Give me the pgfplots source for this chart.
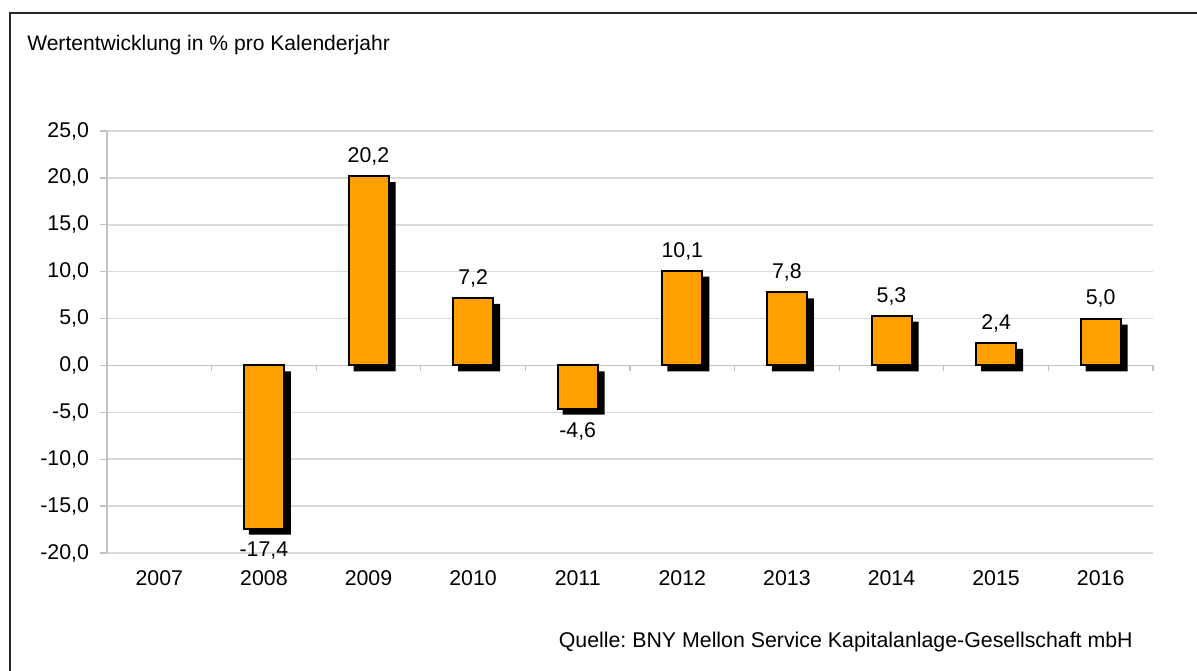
\documentclass[border=0pt]{standalone}
\usepackage{pgfplots}
\pgfplotsset{compat=1.18}
\usepackage{pgfplotstable}
\usepackage{fontspec}
\setmainfont{Liberation Sans}
\definecolor{barorange}{RGB}{255,160,0}
\definecolor{gridgray}{RGB}{217,217,217}
\definecolor{axgray}{RGB}{195,195,195}
\pgfplotstableread{
x y
1 -17.4
2 20.2
3 7.2
4 -4.6
5 10.1
6 7.8
7 5.3
8 2.4
9 5.0
}\perf
\begin{document}
\frenchspacing
\begin{tikzpicture}[font=\fontsize{16pt}{19pt}\selectfont]
\useasboundingbox (0,0) rectangle (897.75pt,503.25pt);
\draw[line width=1.2pt, black!85] (7.5pt,-2pt) -- (7.5pt,493.5pt) -- (900pt,493.5pt);
\node[anchor=base west, inner sep=0pt, font=\fontsize{15.8pt}{19pt}\selectfont] at (20.25pt,465pt) {Wertentwicklung in \% pro Kalenderjahr};
\node[anchor=base east, inner sep=0pt] at (849.75pt,17.25pt) {Quelle: BNY Mellon Service Kapitalanlage-Gesellschaft mbH};
\begin{axis}[
  at={(80.25pt,88.5pt)}, anchor=south west,
  scale only axis, width=784.5pt, height=316.5pt,
  xmin=-0.5, xmax=9.5, ymin=-20, ymax=25,
  clip=false,
  axis line style={draw=none},
  xtick={0,1,2,3,4,5,6,7,8,9},
  xticklabels={2007,2008,2009,2010,2011,2012,2013,2014,2015,2016},
  ytick={-20,-15,-10,-5,0,5,10,15,20,25},
  ytick pos=left,
  tick align=outside,
  major tick length=5pt,
  xtick style={draw=none},
  ytick style={axgray, line width=1pt},
  ymajorgrids,
  major grid style={gridgray, line width=1.1pt},
  /pgf/number format/assume math mode=true,
  yticklabel style={xshift=-5pt, /pgf/number format/.cd, fixed, fixed zerofill, precision=1, use comma},
  xticklabel style={yshift=-4.5pt},
  tick label style={font=\fontsize{16pt}{19pt}\selectfont, text=black},
]
\draw[axgray, line width=1pt] (axis cs:-0.5,-20) -- (axis cs:-0.5,25);
\draw[axgray, line width=1.1pt] (axis cs:-0.5,0) -- (axis cs:9.5,0);
\pgfplotsinvokeforeach{0.5,1.5,2.5,3.5,4.5,5.5,6.5,7.5,8.5,9.5}{
  \draw[axgray, line width=1pt] (axis cs:#1,0) -- ([yshift=-4.5pt]axis cs:#1,0);
}
\addplot[ybar, bar shift=0pt, bar width=31.5pt, fill=black, draw=none, xshift=4.5pt, yshift=-4.5pt] table[x=x,y=y] {\perf};
\addplot[ybar, bar shift=0pt, bar width=30pt, fill=barorange, draw=black, line width=1.5pt,
  nodes near coords={\pgfmathprintnumber[fixed,fixed zerofill,precision=1,use comma]{\pgfplotspointmeta}},
  nodes near coords align={vertical},
  every node near coord/.append style={font=\fontsize{16pt}{19pt}\selectfont, text=black, inner ysep=9.5pt, text depth=0pt}
] table[x=x,y=y] {\perf};
\end{axis}
\end{tikzpicture}
\end{document}
